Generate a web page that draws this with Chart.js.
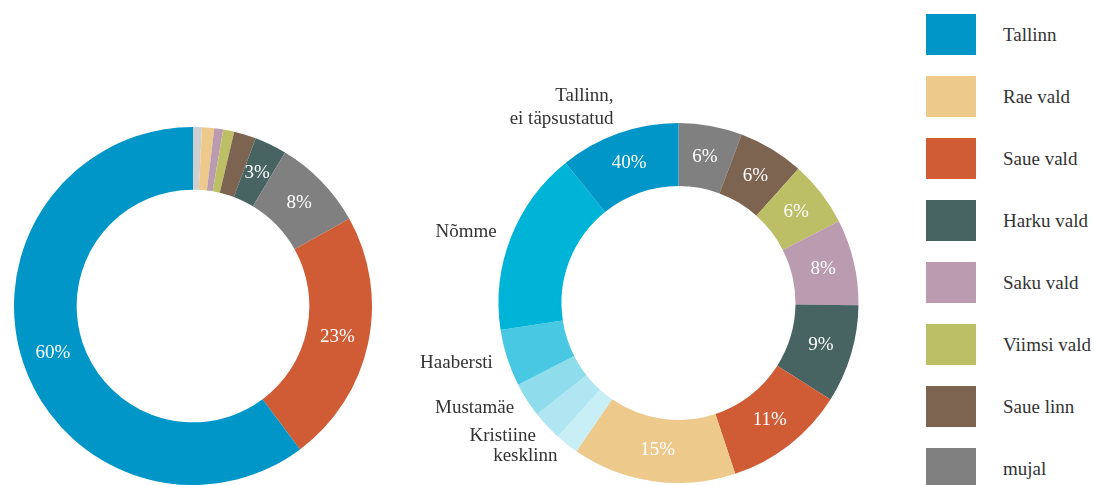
<!DOCTYPE html>
<html><head><meta charset="utf-8">
<script src="https://cdn.jsdelivr.net/npm/chart.js@4.4.1/dist/chart.umd.min.js"></script>
<style>
html,body{margin:0;padding:0;background:#fff;width:1094px;height:485px;overflow:hidden;position:relative;font-family:"Liberation Serif",serif;}
#c1{position:absolute;left:0;top:0;}
#c2{position:absolute;left:380px;top:0;}
#legend{position:absolute;left:926px;top:14px;}
.li{position:absolute;left:0;height:41px;width:168px;}
.sw{position:absolute;left:0;top:0;width:50px;height:41px;}
.tx{position:absolute;left:77px;top:0;line-height:41px;font-size:19px;color:#333;white-space:nowrap;}
</style></head><body>
<canvas id="c1" width="380" height="485"></canvas>
<canvas id="c2" width="520" height="485"></canvas>
<div id="legend"></div>
<script>
// ---- Data ----
const leftLabels = ["teadmata", "Rae vald", "Saku vald", "Viimsi vald", "Saue linn", "Harku vald", "mujal", "Saue vald", "Tallinn"];
const leftValues = [0.8, 1.1, 0.8, 1.0, 2.0, 2.9, 8.3, 22.9, 60.2];
const leftPctLabels = ["", "", "", "", "", "3%", "8%", "23%", "60%"];
const leftColors = ["#cfcfcf", "#eec98c", "#bb9bb0", "#bdbf66", "#7d6451", "#476462", "#808080", "#d05c36", "#0096c8"];

const rightLabels = ["mujal", "Saue linn", "Viimsi vald", "Saku vald", "Harku vald", "Saue vald", "Rae vald", "kesklinn", "Kristiine", "Mustamäe", "Haabersti", "Nõmme", "Tallinn, ei täpsustatud"];
const rightValues = [5.7, 5.9, 5.9, 7.7, 8.8, 10.9, 14.7, 2.1, 2.7, 3.1, 5.1, 16.6, 10.8];
const rightPctLabels = ["6%", "6%", "6%", "8%", "9%", "11%", "15%", "", "", "", "", "", "40%"];
const rightOuterLabels = [[], [], [], [], [], [], [], ["kesklinn"], ["Kristiine"], ["Mustamäe"], ["Haabersti"], ["Nõmme"], ["Tallinn,", "ei täpsustatud"]];
const rightColors = ["#808080", "#7d6451", "#bdbf66", "#bb9bb0", "#476462", "#d05c36", "#eec98c", "#c8eef6", "#b0e6f2", "#8edcec", "#48c8e2", "#00b4d8", "#0096c8"];

const legendLabels = ["Tallinn", "Rae vald", "Saue vald", "Harku vald", "Saku vald", "Viimsi vald", "Saue linn", "mujal"];
const legendColors = ["#0096c8", "#eec98c", "#d05c36", "#476462", "#bb9bb0", "#bdbf66", "#7d6451", "#808080"];

// ---- Plugin for labels ----
const FONT = '19px "Liberation Serif", serif';
const sliceLabels = {
  id: 'sliceLabels',
  afterDatasetsDraw(chart, args, opts) {
    const ctx = chart.ctx;
    const meta = chart.getDatasetMeta(0);
    ctx.save();
    ctx.font = FONT;
    meta.data.forEach((arc, i) => {
      const t = opts.inner ? opts.inner[i] : '';
      if (t) {
        const p = arc.tooltipPosition();
        ctx.fillStyle = '#ffffff';
        ctx.textAlign = 'center';
        ctx.textBaseline = 'middle';
        ctx.fillText(t, p.x, p.y);
      }
      const o = opts.outer ? opts.outer[i] : null;
      if (o && o.length) {
        const mid = (arc.startAngle + arc.endAngle) / 2;
        const r = arc.outerRadius + 15;
        const x = arc.x + Math.cos(mid) * r;
        const y = arc.y + Math.sin(mid) * r;
        ctx.fillStyle = '#333333';
        ctx.textAlign = 'right';
        ctx.textBaseline = 'middle';
        for (let k = 0; k < o.length; k++) {
          ctx.fillText(o[k], x, y - (o.length - 1 - k) * 23);
        }
      }
    });
    ctx.restore();
  }
};

function makeDonut(id, labels, values, colors, inner, outer, padding) {
  return new Chart(document.getElementById(id), {
    type: 'doughnut',
    data: { labels: labels, datasets: [{ data: values, backgroundColor: colors, borderWidth: 0 }] },
    options: {
      responsive: false,
      animation: false,
      cutout: '65%',
      layout: { padding: padding },
      plugins: {
        legend: { display: false },
        tooltip: { enabled: false },
        sliceLabels: { inner: inner, outer: outer }
      }
    },
    plugins: [sliceLabels]
  });
}

makeDonut('c1', leftLabels, leftValues, leftColors, leftPctLabels, null, { left: 14, right: 8, top: 127, bottom: 0 });
makeDonut('c2', rightLabels, rightValues, rightColors, rightPctLabels, rightOuterLabels, { left: 118.5, right: 41.5, top: 123, bottom: 2 });

// ---- Legend ----
const lg = document.getElementById('legend');
legendLabels.forEach((l, i) => {
  const d = document.createElement('div');
  d.className = 'li';
  d.style.top = (i * 62) + 'px';
  d.innerHTML = '<div class="sw" style="background:' + legendColors[i] + '"></div><div class="tx"></div>';
  d.querySelector('.tx').textContent = l;
  lg.appendChild(d);
});
</script>
</body></html>
